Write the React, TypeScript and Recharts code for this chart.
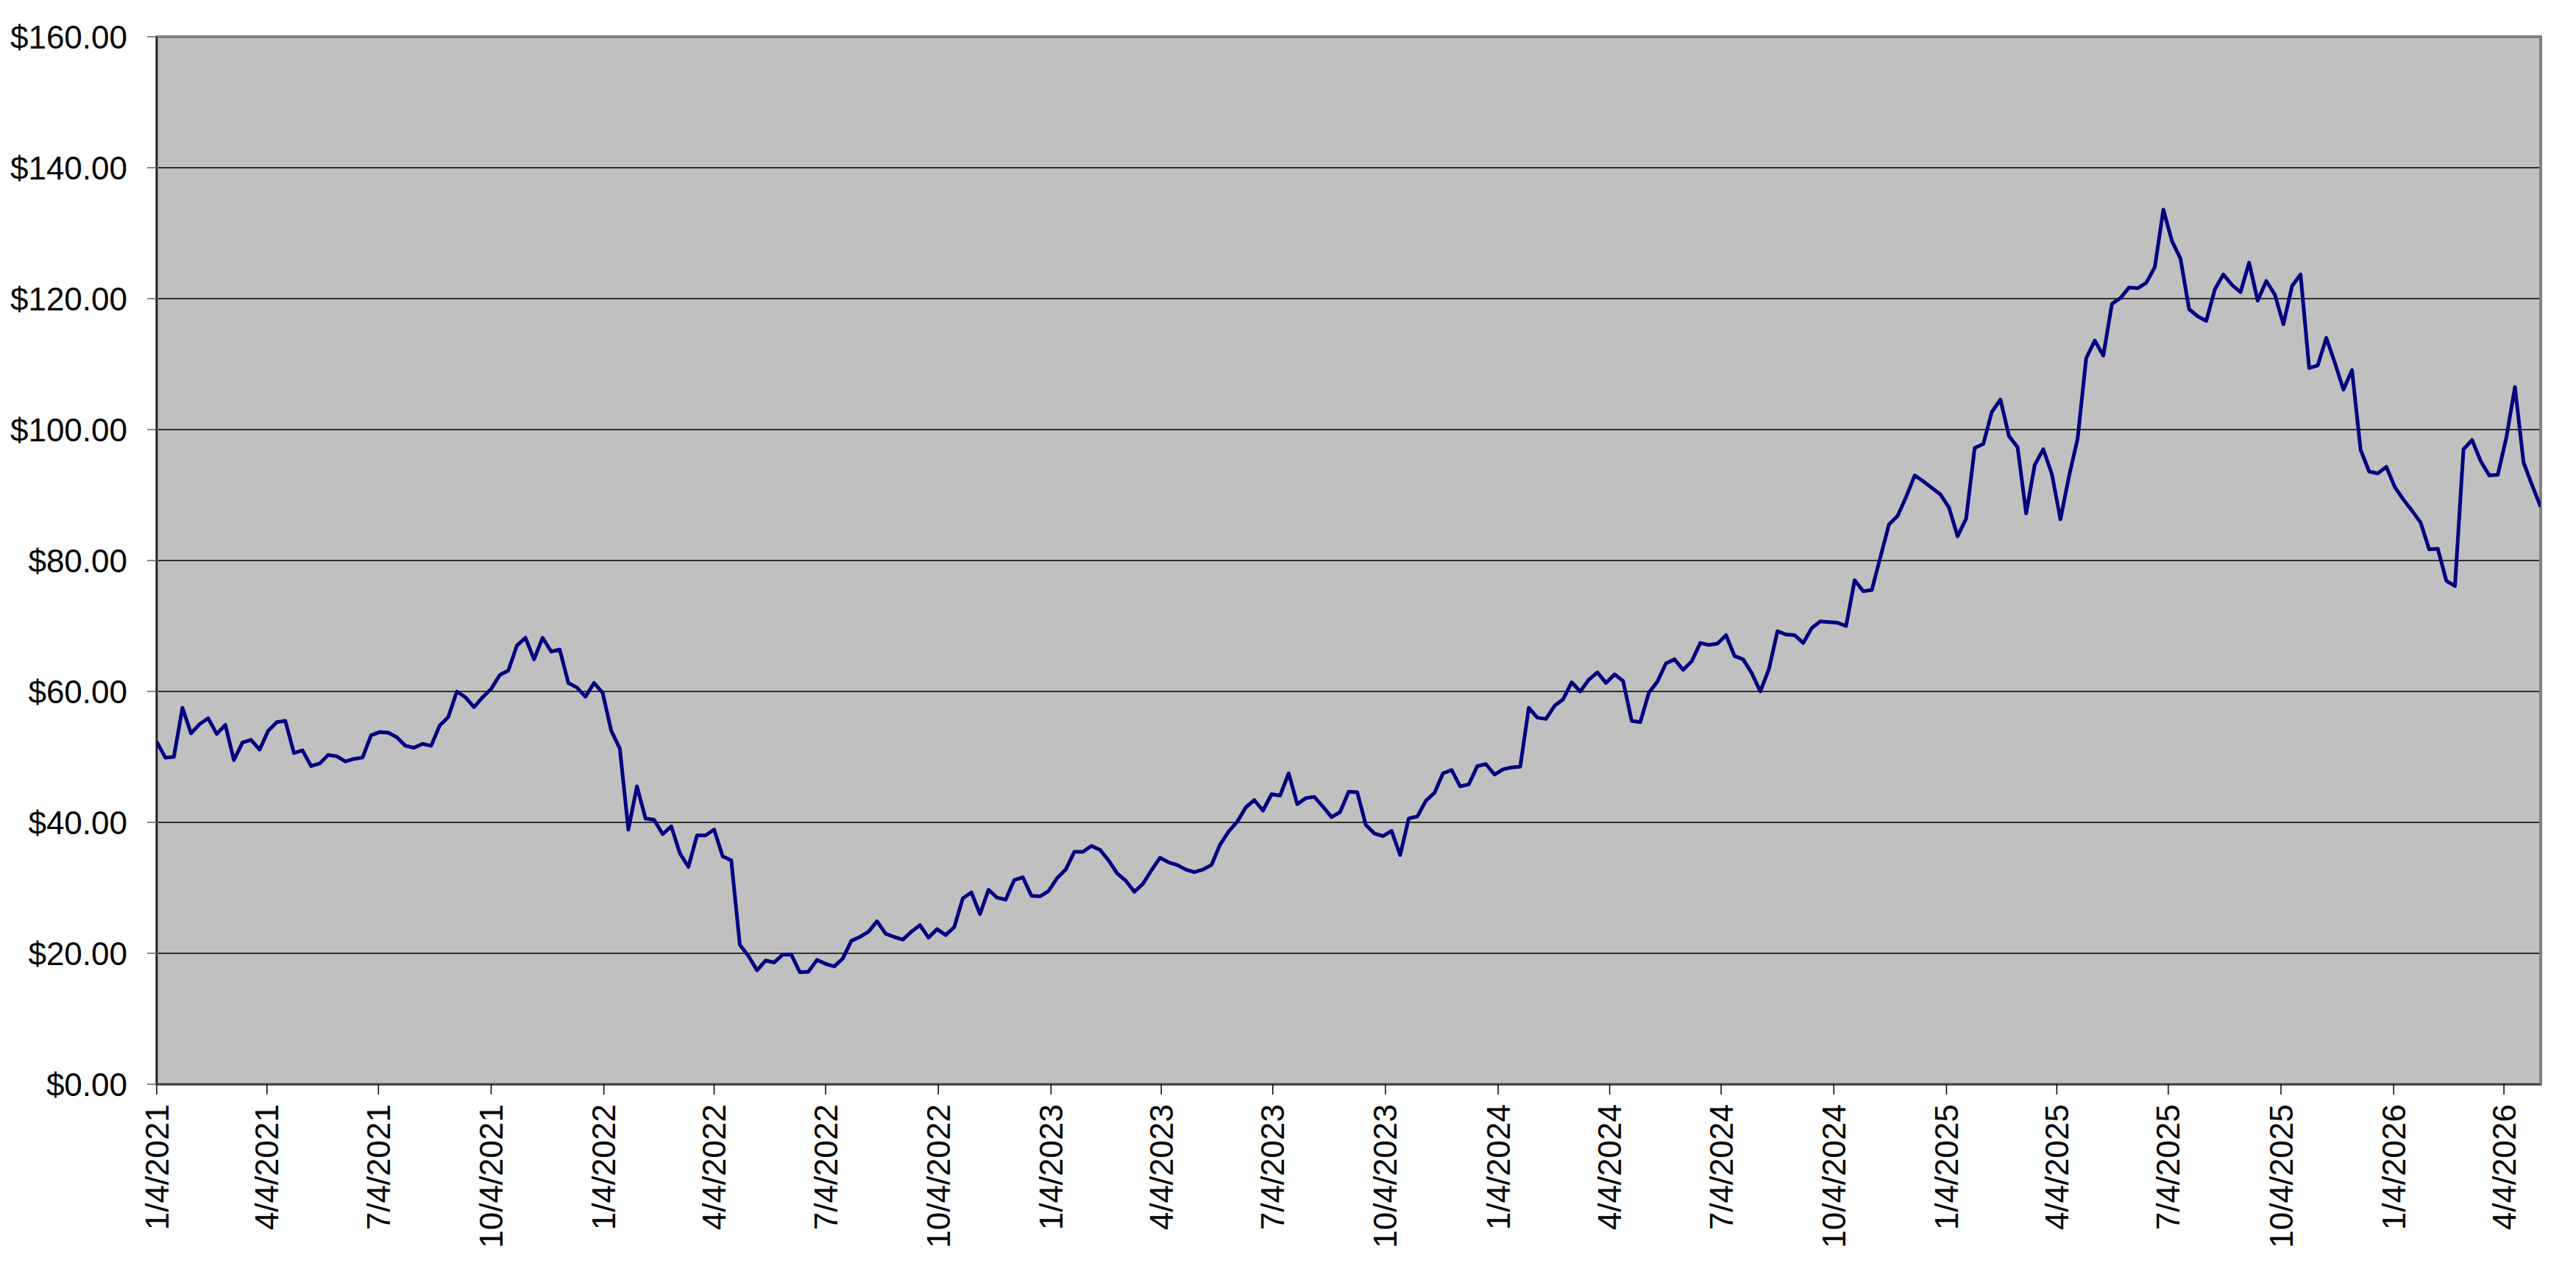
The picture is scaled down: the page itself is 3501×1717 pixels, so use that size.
import React from "react";
import {
  LineChart,
  Line,
  XAxis,
  YAxis,
  CartesianGrid,
  ReferenceArea,
} from "recharts";

// Weekly closing prices (one value per Monday, starting 1/4/2021)
const firstMonday = "2021-01-04";
const daysPerStep = 7;

const price2021 = [
  52.3, 49.9, 50.0, 57.5, 53.6, 55.0, 55.9, 53.5, 54.9, 49.5,
  52.2, 52.6, 51.1, 54.0, 55.3, 55.5, 50.6, 51.0, 48.6, 49.0,
  50.3, 50.1, 49.3, 49.7, 49.9, 53.3, 53.8, 53.7, 53.0, 51.7,
  51.4, 52.0, 51.7, 54.8, 56.1, 60.0, 59.1, 57.6, 59.1, 60.4,
  62.5, 63.2, 67.0, 68.2, 64.9, 68.2, 66.1, 66.4, 61.3, 60.6,
  59.2, 61.3,
];
const price2022 = [
  59.8, 54.0, 51.3, 38.9, 45.5, 40.6, 40.4, 38.2, 39.4, 35.3,
  33.2, 38.0, 38.0, 38.9, 34.8, 34.2, 21.3, 19.6, 17.4, 18.9,
  18.6, 19.8, 19.8, 17.1, 17.2, 19.0, 18.4, 18.0, 19.2, 21.9,
  22.5, 23.3, 24.9, 23.0, 22.5, 22.1, 23.3, 24.3, 22.4, 23.7,
  22.8, 24.0, 28.4, 29.3, 26.0, 29.7, 28.5, 28.2, 31.2, 31.6,
  28.8, 28.7,
];
const price2023 = [
  29.5, 31.5, 32.8, 35.5, 35.5, 36.4, 35.8, 34.2, 32.2, 31.1,
  29.4, 30.6, 32.7, 34.6, 33.9, 33.5, 32.8, 32.4, 32.8, 33.5,
  36.6, 38.6, 40.1, 42.3, 43.4, 41.8, 44.3, 44.1, 47.5, 42.8,
  43.7, 43.9, 42.4, 40.8, 41.6, 44.7, 44.6, 39.6, 38.3, 37.9,
  38.7, 35.0, 40.6, 40.9, 43.3, 44.5, 47.5, 48.0, 45.5, 45.8,
  48.6, 48.9,
];
const price2024 = [
  47.3, 48.1, 48.4, 48.5, 57.5, 56.0, 55.8, 57.8, 58.8, 61.4,
  60.0, 61.8, 62.9, 61.3, 62.6, 61.6, 55.5, 55.3, 59.8, 61.5,
  64.3, 64.9, 63.3, 64.6, 67.4, 67.1, 67.3, 68.6, 65.4, 64.9,
  62.8, 60.0, 63.4, 69.2, 68.7, 68.6, 67.4, 69.7, 70.7, 70.6,
  70.5, 70.0, 77.0, 75.3, 75.5, 80.5, 85.5, 86.8, 89.7, 93.0,
  92.1, 91.1, 90.1,
];
const price2025 = [
  88.1, 83.7, 86.4, 97.2, 97.8, 102.7, 104.6, 99.0, 97.3, 87.2,
  94.6, 97.0, 93.2, 86.3, 92.9, 98.6, 110.9, 113.6, 111.3, 119.2,
  120.1, 121.7, 121.6, 122.4, 124.8, 133.6, 128.8, 126.1, 118.4, 117.3,
  116.6, 121.4, 123.7, 122.1, 121.0, 125.5, 119.7, 122.7, 120.6, 116.1,
  121.9, 123.7, 109.4, 109.8, 114.0, 110.2, 106.1, 109.1, 96.9, 93.6,
  93.3, 94.3,
];
const price2026 = [
  91.2, 89.3, 87.6, 85.8, 81.7, 81.8, 76.9, 76.1, 97.0, 98.4,
  95.2, 93.0, 93.1, 98.8, 106.5, 95.0, 91.5, 88.2,
];

const xTickLabels = [
  "1/4/2021", "4/4/2021", "7/4/2021", "10/4/2021",
  "1/4/2022", "4/4/2022", "7/4/2022", "10/4/2022",
  "1/4/2023", "4/4/2023", "7/4/2023", "10/4/2023",
  "1/4/2024", "4/4/2024", "7/4/2024", "10/4/2024",
  "1/4/2025", "4/4/2025", "7/4/2025", "10/4/2025",
  "1/4/2026", "4/4/2026",
];
const yTicks = [0, 20, 40, 60, 80, 100, 120, 140, 160];

const DAY_MS = 86400000;
const startMs = Date.parse(firstMonday + "T00:00:00Z");
const mdyToDay = (s: string) => {
  const [m, d, y] = s.split("/").map(Number);
  return Math.round((Date.UTC(y, m - 1, d) - startMs) / DAY_MS);
};
const dayToMdy = (day: number) => {
  const dt = new Date(startMs + day * DAY_MS);
  return `${dt.getUTCMonth() + 1}/${dt.getUTCDate()}/${dt.getUTCFullYear()}`;
};

const allPrices = [
  ...price2021,
  ...price2022,
  ...price2023,
  ...price2024,
  ...price2025,
  ...price2026,
];
const data = allPrices.map((p, i) => ({ day: i * daysPerStep, price: p }));
const lastDay = data[data.length - 1].day;
const xTicks = xTickLabels.map(mdyToDay);

const FONT = "'Liberation Sans', Arial, Helvetica, sans-serif";

const DateTick = (props: any) => {
  const { x, y, payload } = props;
  return (
    <text
      x={x}
      y={y}
      transform={`rotate(-90 ${x} ${y})`}
      textAnchor="end"
      dominantBaseline="central"
      fontSize={44}
      fontFamily={FONT}
      fill="#000"
    >
      {dayToMdy(payload.value)}
    </text>
  );
};

export default function App() {
  return (
    <div
      style={{
        position: "absolute",
        left: 0,
        top: 0,
        width: 3501,
        height: 1717,
        background: "#ffffff",
      }}
    >
      <LineChart
        width={3501}
        height={1717}
        data={data}
        margin={{ top: 50, right: 48, bottom: 43, left: 0 }}
      >
        <CartesianGrid
          vertical={false}
          horizontal={true}
          fill="#C0C0C0"
          fillOpacity={1}
          stroke="#303030"
          strokeWidth={2}
        />
        <ReferenceArea
          x1={0}
          x2={lastDay}
          y1={0}
          y2={160}
          fill="none"
          stroke="#808080"
          strokeWidth={4}
          ifOverflow="visible"
        />
        <XAxis
          dataKey="day"
          type="number"
          scale="linear"
          domain={[0, lastDay]}
          ticks={xTicks}
          interval={0}
          height={200}
          tickSize={14}
          tickMargin={13}
          axisLine={{ stroke: "#404040", strokeWidth: 2 }}
          tickLine={{ stroke: "#000", strokeWidth: 1.5 }}
          tick={<DateTick />}
          allowDataOverflow
        />
        <YAxis
          type="number"
          domain={[0, 160]}
          ticks={yTicks}
          interval={0}
          width={213}
          tickSize={13}
          tickMargin={27}
          axisLine={{ stroke: "#000", strokeWidth: 1.5 }}
          tickLine={{ stroke: "#606060", strokeWidth: 1.5 }}
          tick={{ fontSize: 44, fill: "#000", fontFamily: FONT }}
          tickFormatter={(v: number) => `$${v.toFixed(2)}`}
          allowDataOverflow
        />
        <Line
          type="linear"
          dataKey="price"
          stroke="#000080"
          strokeWidth={5}
          strokeLinejoin="round"
          dot={false}
          activeDot={false}
          isAnimationActive={false}
        />
      </LineChart>
    </div>
  );
}
